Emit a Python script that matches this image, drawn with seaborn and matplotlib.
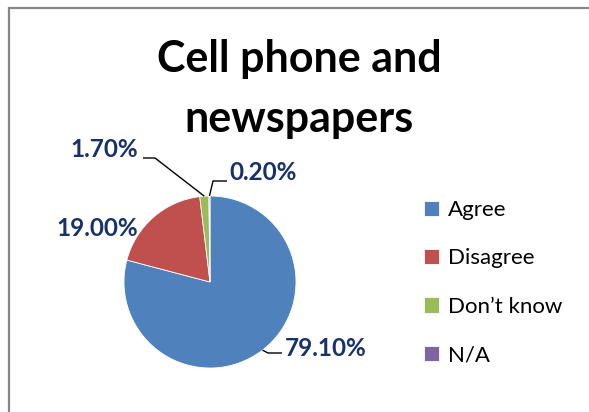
import matplotlib
matplotlib.use("Agg")
import numpy as np
import matplotlib.pyplot as plt
import seaborn as sns
from matplotlib.patches import Rectangle

categories = ["Agree", "Disagree", "Don\u2019t know", "N/A"]
shares = [79.1, 19.0, 1.7, 0.2]
colors = ["#4F81BD", "#C0504D", "#9BBB59", "#8064A2"]
title_lines = ["Cell phone and", "newspapers"]

sns.set_theme(style="white")
plt.rcParams["font.family"] = ["Lato", "DejaVu Sans"]

W, H = 589, 412
fig = plt.figure(figsize=(W / 100, H / 100), dpi=100)
fig.patch.set_facecolor("white")
ax = fig.add_axes([0, 0, 1, 1])

# pie, laid out in pixel units (y measured from the bottom)
cx, cy, r = 210, H - 282, 86
wedges, _ = ax.pie(
    shares,
    colors=colors,
    startangle=90,
    counterclock=False,
    center=(cx, cy),
    radius=r,
    wedgeprops=dict(edgecolor="white", linewidth=0.6),
)
ax.set_xlim(0, W)
ax.set_ylim(0, H)
ax.set_aspect("equal")
ax.axis("off")

# chart frame
ax.add_patch(Rectangle((9, -20), W + 20, H - 8 + 20, fill=False,
                       edgecolor="#878787", lw=1.6, clip_on=False))

# title
ax.text(299, H - 72, title_lines[0], ha="center", va="baseline",
        fontsize=31, fontweight="bold", color="black")
ax.text(299, H - 132, title_lines[1], ha="center", va="baseline",
        fontsize=31, fontweight="bold", color="black")


def edge_point(w):
    mid = np.deg2rad((w.theta1 + w.theta2) / 2)
    return cx + r * np.cos(mid), cy + r * np.sin(mid)


label_color = "#17326B"
# label centres (x, y from top) and leader-line bends
label_pos = [(326, 348), (97, 228), (104, 149), (263, 172)]
leaders = [
    [(268, 353), (282, 353)],
    None,
    [(155, 158), (143, 158)],
    [(213, 181), (227, 181)],
]
for w, v, (lx, ly), bends in zip(wedges, shares, label_pos, leaders):
    ax.text(lx, H - ly, f"{v:.2f}%", ha="center", va="center",
            fontsize=17.5, fontweight="bold", color=label_color)
    if bends:
        sx, sy = edge_point(w)
        xs = [sx] + [b[0] for b in bends]
        ys = [sy] + [H - b[1] for b in bends]
        ax.plot(xs, ys, color="black", lw=1.0, solid_capstyle="butt")

leg = fig.legend(
    wedges, categories,
    loc="upper left", bbox_to_anchor=(424 / W, 1 - 200 / H),
    frameon=False, fontsize=16, handlelength=0.68, handleheight=0.68,
    handletextpad=0.4, labelspacing=1.28, borderpad=0, borderaxespad=0,
)
for t in leg.get_texts():
    t.set_color("black")

fig.savefig("out.png", dpi=100, facecolor="white")
